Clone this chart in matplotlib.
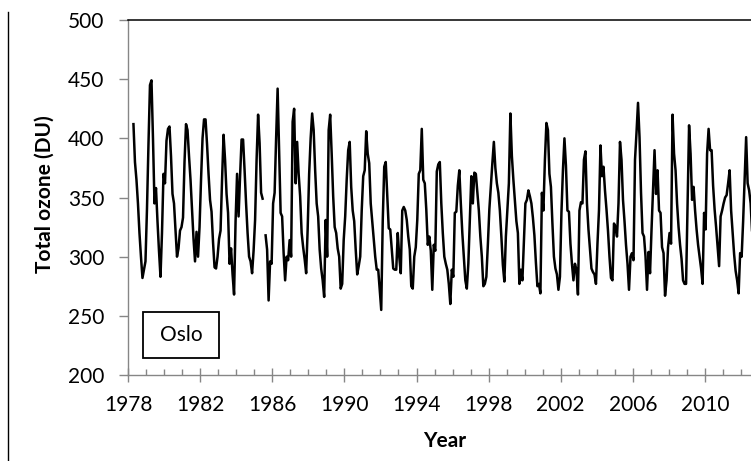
import numpy as np
import matplotlib
matplotlib.use("Agg")
import matplotlib.pyplot as plt
from matplotlib.lines import Line2D
from matplotlib.patches import Rectangle
from matplotlib.ticker import MultipleLocator

nan = np.nan

# Monthly total ozone (DU) at Oslo, Jan..Dec of each year
o1978 = [nan, nan, nan, 412, 380, 365, 345, 320, 300, 282, 289, 296]
o1979 = [340, 395, 445, 449, 400, 345, 358, 330, 305, 283, 320, 370]
o1980 = [362, 398, 408, 410, 385, 353, 345, 322, 300, 307, 322, 325]
o1981 = [333, 380, 412, 407, 385, 365, 340, 315, 296, 321, 300, 325]
o1982 = [365, 400, 416, 416, 395, 370, 348, 338, 312, 291, 290, 300]
o1983 = [315, 322, 365, 403, 382, 353, 337, 294, 307, 285, 268, 330]
o1984 = [370, 334, 368, 399, 399, 373, 345, 320, 300, 296, 286, 305]
o1985 = [331, 382, 420, 396, 354, 349, nan, 318, 306, 263, 296, 294]
o1986 = [345, 354, 400, 442, 390, 337, 334, 303, 280, 300, 297, 314]
o1987 = [300, 414, 425, 362, 397, 370, 351, 320, 308, 298, 286, 323]
o1988 = [370, 400, 421, 407, 373, 345, 334, 306, 290, 280, 266, 331]
o1989 = [300, 407, 420, 387, 351, 325, 320, 307, 300, 273, 277, 314]
o1990 = [334, 365, 390, 397, 359, 339, 330, 306, 285, 292, 300, 339]
o1991 = [368, 373, 406, 387, 379, 345, 330, 314, 300, 289, 289, 272]
o1992 = [255, 330, 376, 380, 351, 324, 323, 306, 290, 289, 289, 320]
o1993 = [300, 286, 339, 342, 339, 331, 317, 306, 275, 273, 300, 308]
o1994 = [331, 370, 373, 408, 365, 362, 340, 310, 317, 305, 272, 310]
o1995 = [305, 372, 378, 380, 345, 320, 300, 294, 289, 277, 260, 289]
o1996 = [283, 337, 338, 360, 373, 345, 320, 300, 280, 273, 294, 331]
o1997 = [368, 345, 371, 370, 354, 339, 317, 300, 275, 277, 283, 310]
o1998 = [340, 360, 379, 397, 375, 362, 354, 339, 317, 293, 279, 317]
o1999 = [339, 362, 421, 385, 365, 348, 330, 320, 277, 289, 280, 312]
o2000 = [345, 348, 356, 351, 345, 333, 318, 295, 275, 277, 269, 354]
o2001 = [339, 382, 413, 407, 370, 359, 328, 300, 290, 285, 272, 283]
o2002 = [337, 373, 400, 377, 339, 338, 311, 294, 280, 294, 289, 268]
o2003 = [339, 346, 345, 382, 389, 345, 323, 306, 290, 287, 285, 277]
o2004 = [311, 339, 394, 368, 376, 356, 340, 322, 300, 282, 280, 328]
o2005 = [325, 317, 345, 397, 382, 348, 330, 310, 294, 272, 300, 303]
o2006 = [297, 382, 405, 430, 401, 354, 320, 317, 300, 272, 304, 286]
o2007 = [323, 356, 390, 353, 373, 339, 337, 308, 303, 267, 280, 308]
o2008 = [320, 311, 420, 387, 373, 345, 325, 310, 298, 280, 277, 277]
o2009 = [345, 411, 387, 348, 359, 339, 323, 310, 300, 290, 277, 337]
o2010 = [323, 387, 408, 390, 390, 360, 340, 325, 308, 292, 334, 339]
o2011 = [345, 350, 352, 362, 373, 339, 320, 302, 288, 280, 269, 303]
o2012 = [300, 330, 365, 401, 362, 356, 345, 320, nan, nan, nan, nan]

yearly = [o1978, o1979, o1980, o1981, o1982, o1983, o1984, o1985, o1986,
          o1987, o1988, o1989, o1990, o1991, o1992, o1993, o1994, o1995,
          o1996, o1997, o1998, o1999, o2000, o2001, o2002, o2003, o2004,
          o2005, o2006, o2007, o2008, o2009, o2010, o2011, o2012]
first_year = 1978

x_ticks = list(range(1978, 2011, 4))
y_ticks = [200, 250, 300, 350, 400, 450, 500]

t, v = [], []
for i, row in enumerate(yearly):
    for m, val in enumerate(row):
        t.append(first_year + i + (m + 0.5) / 12.0)
        v.append(val)
t = np.array(t)
v = np.array(v, dtype=float)

plt.rcParams['font.family'] = ['Lato', 'DejaVu Sans']

W, H = 751, 461
fig = plt.figure(figsize=(W / 100, H / 100), dpi=100)
x0, x1, ytop, ybot = 128.2, 751.0, 20.0, 375.0
ax = fig.add_axes([x0 / W, 1 - ybot / H, (x1 - x0) / W, (ybot - ytop) / H])

ax.plot(t, v, color='black', lw=1.8)

px_per_year = 18.02
ax.set_xlim(1978, 1978 + (x1 - x0) / px_per_year)
ax.set_ylim(200, 500)
ax.set_xticks(x_ticks)
ax.xaxis.set_minor_locator(MultipleLocator(1))
ax.set_yticks(y_ticks)

gray = '#868686'
for s in ['left', 'bottom']:
    ax.spines[s].set_color(gray)
    ax.spines[s].set_linewidth(1.0)
ax.spines['right'].set_visible(False)
ax.spines['top'].set_color('black')
ax.spines['top'].set_linewidth(1.1)

ax.tick_params(axis='y', which='major', direction='out', length=6.5, width=1.0,
               color=gray, labelsize=15, pad=10.5)
ax.tick_params(axis='x', which='major', direction='inout', length=10, width=1.0,
               color=gray, labelsize=15, pad=9.5)
ax.tick_params(axis='x', which='minor', direction='in', length=4.5, width=1.0,
               color=gray)

fig.text(45 / W, 1 - 194 / H, 'Total ozone (DU)', rotation=90, ha='center',
         va='center', fontsize=15, fontweight='bold')
fig.text(445 / W, 1 - 441 / H, 'Year', ha='center', va='center',
         fontsize=15, fontweight='bold')

fig.add_artist(Rectangle((143 / W, 1 - 358 / H), 76 / W, 46 / H,
                         transform=fig.transFigure, facecolor='white',
                         edgecolor='black', lw=1.3))
fig.text(181 / W, 1 - 335 / H, 'Oslo', ha='center', va='center', fontsize=15)

fig.add_artist(Line2D([8 / W, 8 / W], [0, 1 - 12 / H], transform=fig.transFigure,
                      color='black', lw=1.0))

fig.savefig('out.png', dpi=100)
